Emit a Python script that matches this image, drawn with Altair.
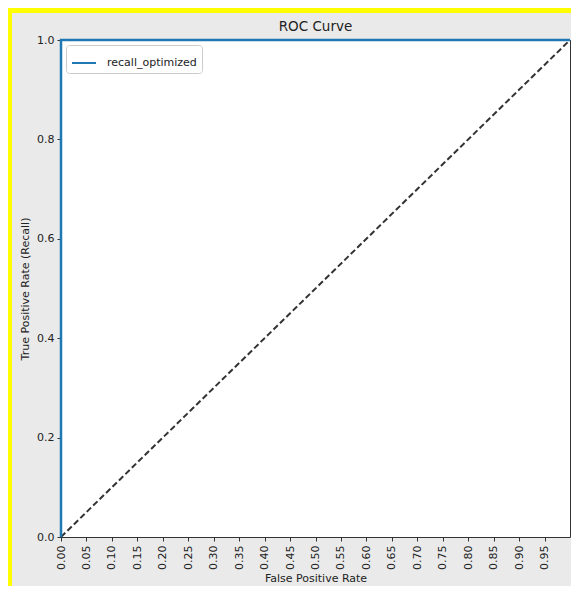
import altair as alt
import pandas as pd

# ---- data ----
model_name = ["recall_optimized", "recall_optimized", "recall_optimized"]
fpr = [0.0, 0.0, 1.0]
tpr = [0.0, 1.0, 1.0]
diag_fpr = [0.0, 1.0]
diag_tpr = [0.0, 1.0]
x_ticks = [0.00, 0.05, 0.10, 0.15, 0.20, 0.25, 0.30, 0.35, 0.40, 0.45,
           0.50, 0.55, 0.60, 0.65, 0.70, 0.75, 0.80, 0.85, 0.90, 0.95]
y_ticks = [0.0, 0.2, 0.4, 0.6, 0.8, 1.0]

# ---- layout ----
W, H = 509, 497
PAD_L, PAD_T, PAD_R, PAD_B = 53, 32, 1, 49
CANVAS_W = PAD_L + W + PAD_R
CANVAS_H = PAD_T + H + PAD_B
FONT = "DejaVu Sans"
TXT = "#222222"

roc_df = pd.DataFrame({"fpr": fpr, "tpr": tpr, "model": model_name,
                       "step": list(range(len(fpr)))})
diag_df = pd.DataFrame({"fpr": diag_fpr, "tpr": diag_tpr})

xscale = alt.Scale(domain=[0, 1], nice=False, zero=False)
yscale = alt.Scale(domain=[0, 1], nice=False, zero=False)

xaxis = alt.Axis(values=x_ticks, format=".2f", labelAngle=270, labelFlush=False,
                 labelOverlap=False, title="False Positive Rate",
                 labelPadding=4, titlePadding=3)
yaxis = alt.Axis(values=y_ticks, format=".1f", labelFlush=False, labelOverlap=False,
                 title="True Positive Rate (Recall)", labelPadding=3, titlePadding=6)

# decorative yellow frame strips (top and left edge of the screenshot)
frame_top = alt.Chart(alt.Data(values=[{"a": 1}])).mark_rule(
    color="#ffff00", strokeWidth=5
).encode(x=alt.value(-PAD_L), x2=alt.value(CANVAS_W - PAD_L), y=alt.value(2.5 - PAD_T))
frame_left = alt.Chart(alt.Data(values=[{"a": 1}])).mark_rule(
    color="#ffff00", strokeWidth=4
).encode(y=alt.value(5 - PAD_T), y2=alt.value(CANVAS_H - PAD_T), x=alt.value(2 - PAD_L))

diag = alt.Chart(diag_df).mark_line(color="#333333", strokeWidth=2,
                                    strokeDash=[6, 3]).encode(
    x=alt.X("fpr:Q", scale=xscale, axis=xaxis),
    y=alt.Y("tpr:Q", scale=yscale, axis=yaxis),
)

roc = alt.Chart(roc_df).mark_line(strokeWidth=2.5, clip=False).encode(
    x=alt.X("fpr:Q", scale=xscale, axis=xaxis),
    y=alt.Y("tpr:Q", scale=yscale, axis=yaxis),
    order="step:O",
    color=alt.Color("model:N", scale=alt.Scale(range=["#1f77b4"]),
                    legend=alt.Legend(title=None, orient="top-left", offset=5,
                                      symbolType="stroke", symbolSize=576,
                                      symbolStrokeWidth=2, labelOffset=10,
                                      padding=5, fillColor="white",
                                      strokeColor="#cccccc", cornerRadius=3,
                                      labelFont=FONT, labelFontSize=11,
                                      labelColor=TXT)),
)

chart = alt.layer(frame_top, frame_left, diag, roc).properties(
    width=W, height=H,
    title=alt.TitleParams("ROC Curve", font=FONT, fontSize=13.5, fontWeight="normal",
                          color=TXT, offset=-25, anchor="middle", frame="group"),
    autosize=alt.AutoSizeParams(type="none"),
    padding={"left": PAD_L, "top": PAD_T, "right": PAD_R, "bottom": PAD_B},
    background="#eaeaea",
).configure_view(
    stroke="#333333", strokeWidth=1, fill="white"
).configure_axis(
    domain=False, grid=False, tickColor="#333333", tickSize=4, tickWidth=1,
    labelFont=FONT, labelFontSize=11, labelColor=TXT,
    titleFont=FONT, titleFontSize=11, titleFontWeight="normal", titleColor=TXT,
    labelOverlap=False,
).configure_axisX(
    labelOverlap=False, labelAngle=270
)

chart.save("out.html", embed_options={"renderer": "svg", "actions": False})
